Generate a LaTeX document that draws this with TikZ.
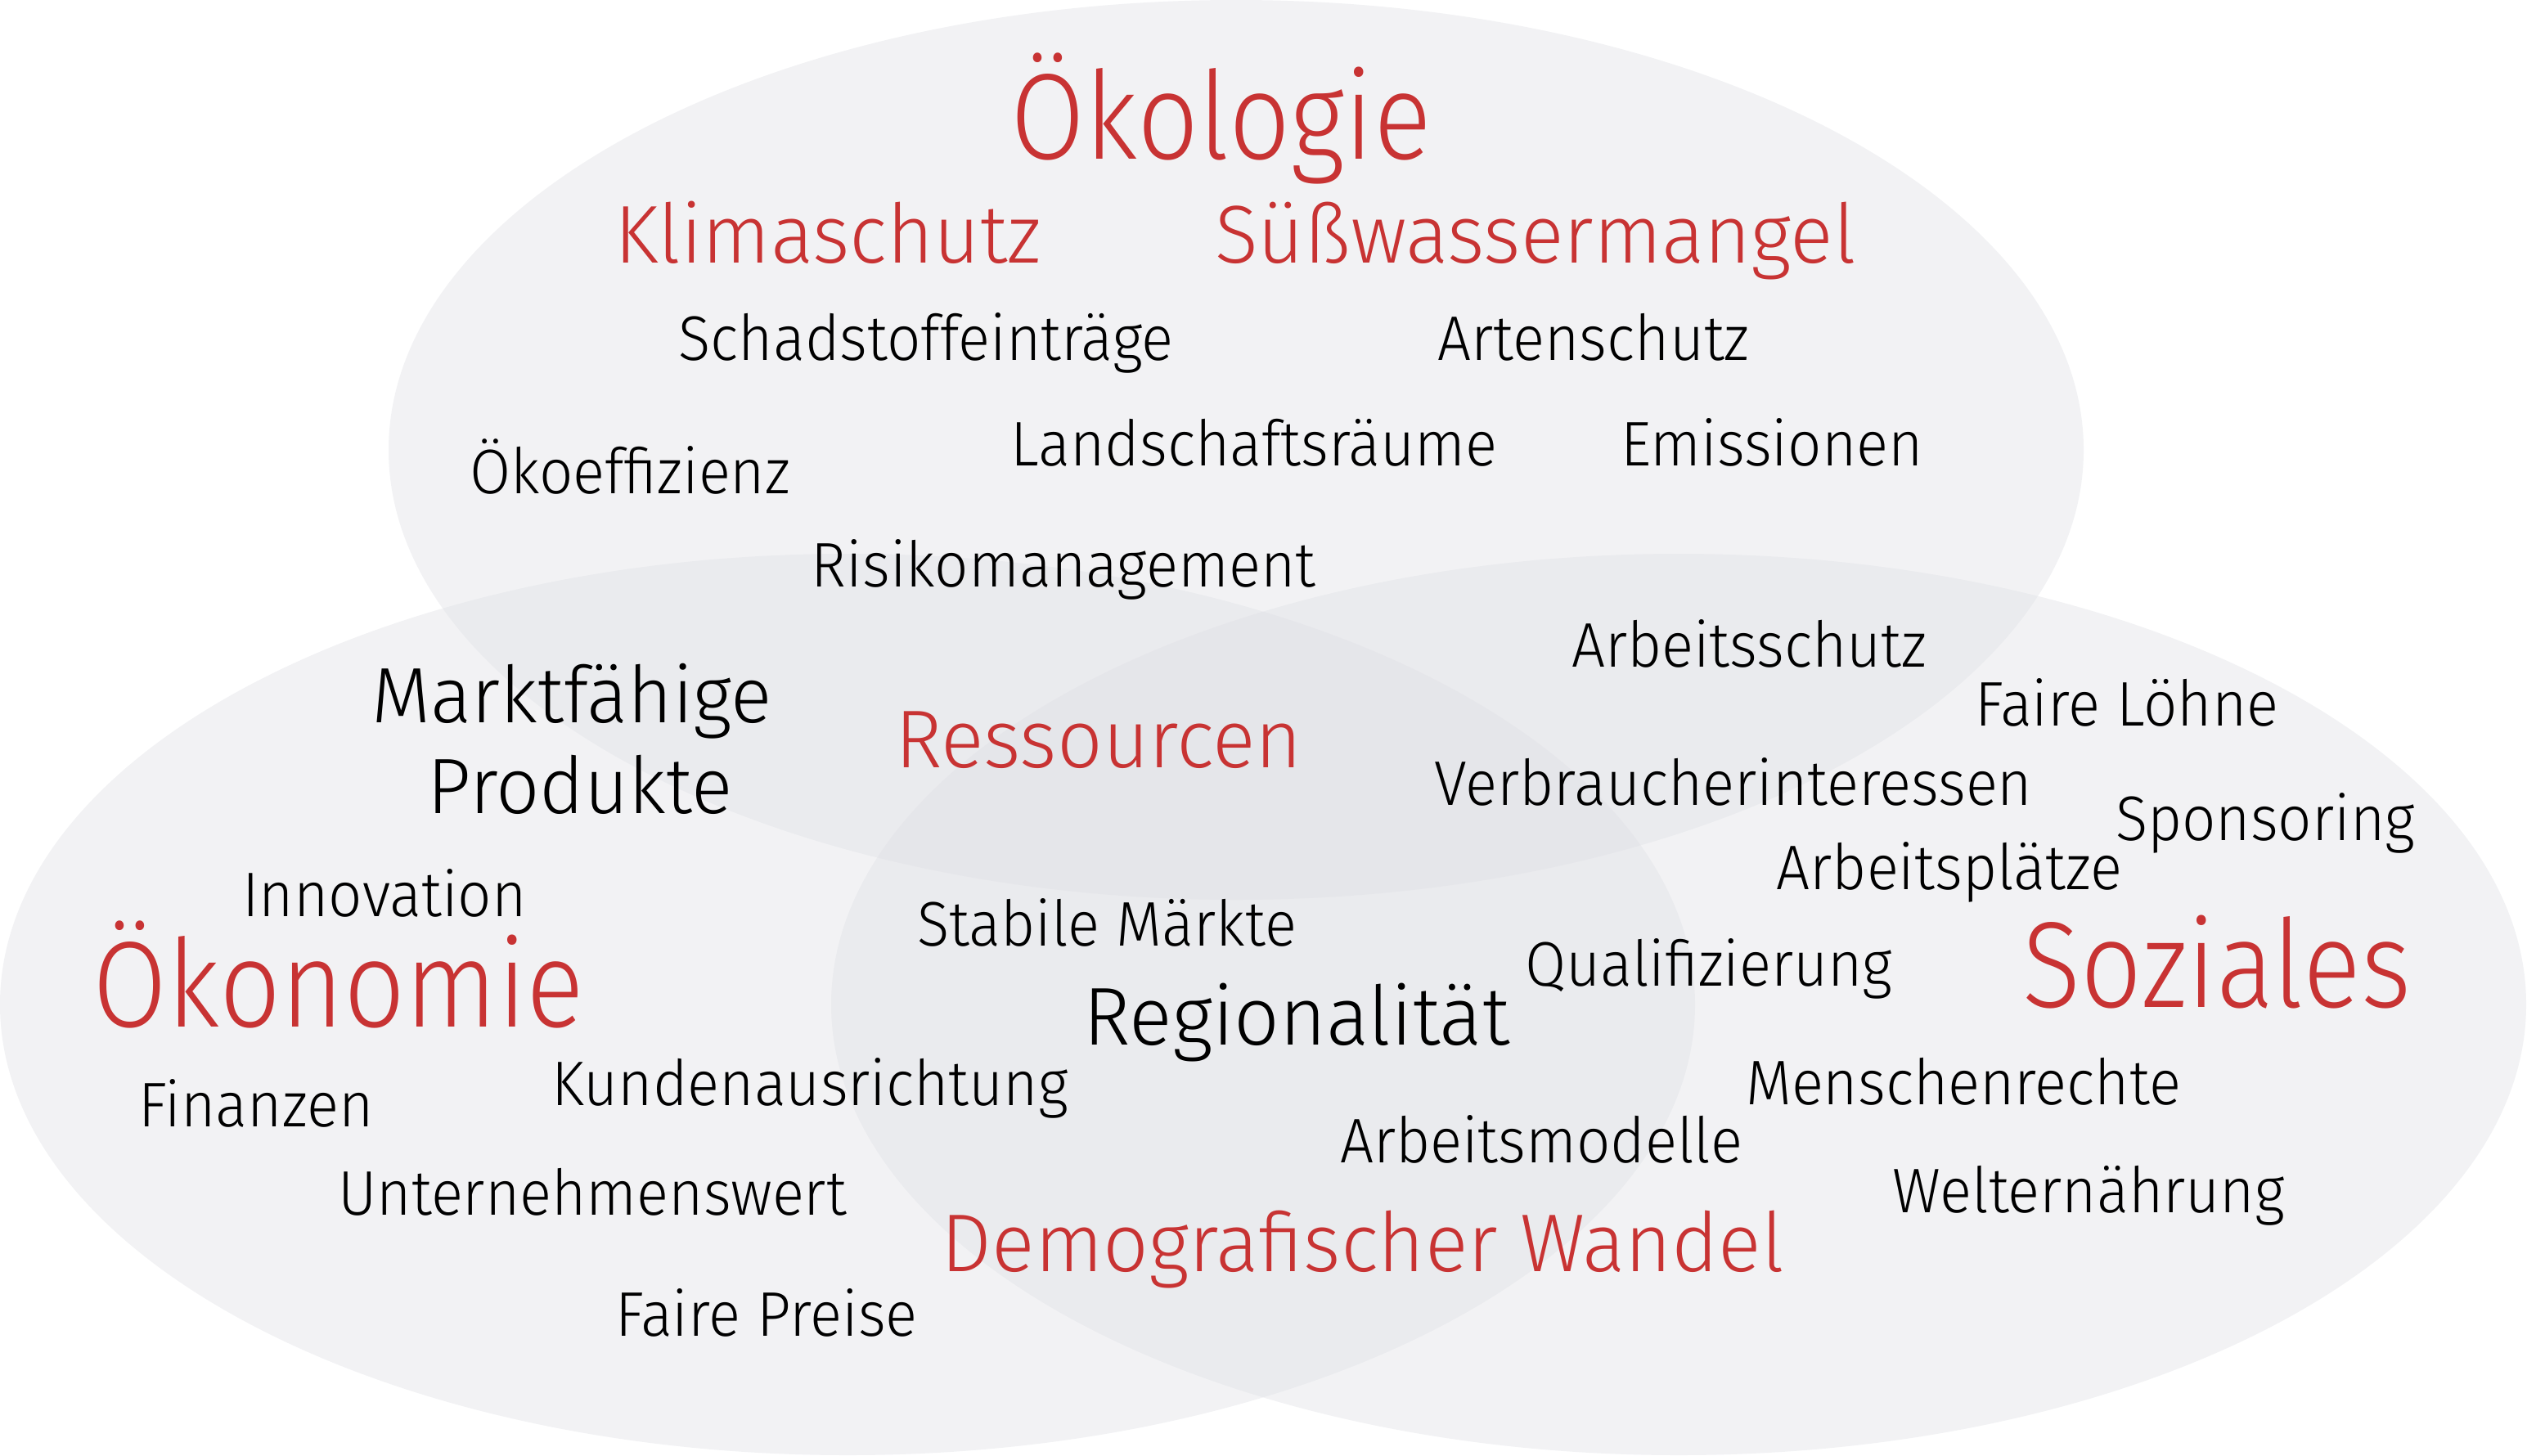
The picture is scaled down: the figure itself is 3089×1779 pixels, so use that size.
\documentclass[tikz,border=0pt]{standalone}
\usepackage{fontspec}
\IfFontExistsTF{Fira Sans Light}{\def\vennfontname{Fira Sans Light}}{\def\vennfontname{Fira Sans}}
\setmainfont{\vennfontname}[FakeStretch=0.94]
\newfontfamily\headfont{\vennfontname}[FakeStretch=0.882]
\newfontfamily\topicfont{\vennfontname}[FakeStretch=0.975]
\newfontfamily\termfont{\vennfontname}[FakeStretch=0.943]
\definecolor{sustred}{RGB}{200,51,51}
\definecolor{vennfill}{RGB}{222,223,228}
\begin{document}
\begin{tikzpicture}[x=0.01cm, y=-0.01cm,
        blob/.style={fill=vennfill, fill opacity=0.4},
        headline/.style={anchor=base, inner sep=0pt, text=sustred, font=\headfont\fontsize{42.5}{46}\selectfont},
        topic/.style={anchor=base, inner sep=0pt, font=\topicfont\fontsize{28.5}{32}\selectfont},
        term/.style={anchor=base, inner sep=0pt, font=\termfont\fontsize{21.9}{25}\selectfont}
    ]
        \useasboundingbox (0,0) rectangle (3089,1779);

        % the three sets
        \fill[blob] (1511,550) ellipse [x radius=1036, y radius=550];
        \fill[blob] (1036,1228) ellipse [x radius=1036, y radius=551];
        \fill[blob] (2052,1228) ellipse [x radius=1036, y radius=551];

        % Oekologie
        \node[headline] (oeko) at (1493,195) {Ökologie};
        \node[topic, text=sustred] (klima) at (1012,321) {Klimaschutz};
        \node[topic, text=sustred] (wasser) at (1877,321) {Süßwassermangel};
        \node[term] (schad) at (1132,440) {Schadstoffeinträge};
        \node[term] (arten) at (1948,440) {Artenschutz};
        \node[term] (effiz) at (770,603) {Ökoeffizienz};
        \node[term] (land) at (1533,569) {Landschaftsräume};
        \node[term] (emis) at (2166,569) {Emissionen};
        \node[term] (risiko) at (1300,717) {Risikomanagement};

        % Oekonomie
        \node[headline] (oekon) at (414,1255) {Ökonomie};
        \node[topic, font=\topicfont\fontsize{27.3}{31}\selectfont] (markt) at (699,883) {Marktfähige};
        \node[topic, font=\topicfont\fontsize{27.3}{31}\selectfont] (prod) at (709,994) {Produkte};
        \node[term] (innov) at (470,1120) {Innovation};
        \node[term] (finanz) at (313,1377) {Finanzen};
        \node[term] (kunden) at (990,1351) {Kundenausrichtung};
        \node[term] (wert) at (724,1485) {Unternehmenswert};
        \node[term] (preise) at (937,1633) {Faire Preise};

        % Soziales
        \node[headline] (sozial) at (2710,1231) {Soziales};
        \node[term] (aschutz) at (2138,815) {Arbeitsschutz};
        \node[term] (loehne) at (2600,887) {Faire Löhne};
        \node[term] (verbr) at (2119,984) {Verbraucherinteressen};
        \node[term] (spons) at (2769,1027) {Sponsoring};
        \node[term] (plaetze) at (2383,1087) {Arbeitsplätze};
        \node[term] (quali) at (2089,1205) {Qualifizierung};
        \node[term] (menschen) at (2400,1350) {Menschenrechte};
        \node[term] (modelle) at (1884,1421) {Arbeitsmodelle};
        \node[term] (welt) at (2553,1482) {Welternährung};

        % Schnittmengen
        \node[topic, text=sustred] (ress) at (1343,938) {Ressourcen};
        \node[term] (stabil) at (1353,1156) {Stabile Märkte};
        \node[topic] (region) at (1585,1277) {Regionalität};
        \node[topic, text=sustred] (demo) at (1666,1554) {Demografischer Wandel};
    \end{tikzpicture}
\end{document}
